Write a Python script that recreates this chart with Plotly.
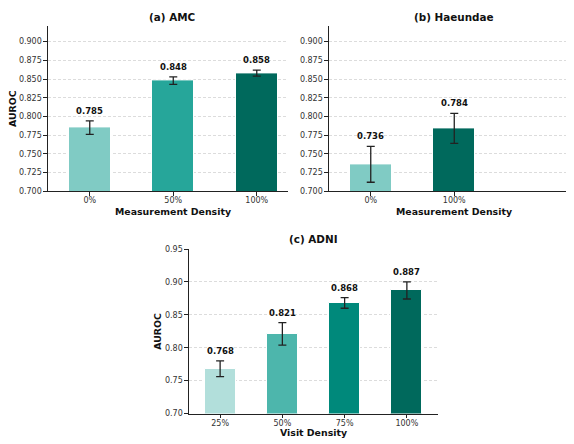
import plotly.graph_objects as go

# ---- data ----
amc_cats = ["0%", "50%", "100%"]
amc_vals = [0.785, 0.848, 0.858]
amc_err = [0.009, 0.005, 0.004]
amc_colors = ["#80cbc4", "#26a69a", "#00695c"]

hae_cats = ["0%", "100%"]
hae_vals = [0.736, 0.784]
hae_err = [0.024, 0.020]
hae_colors = ["#80cbc4", "#00695c"]

adni_cats = ["25%", "50%", "75%", "100%"]
adni_vals = [0.768, 0.821, 0.868, 0.887]
adni_err = [0.012, 0.017, 0.008, 0.013]
adni_colors = ["#b2dfdb", "#4db6ac", "#00897b", "#00695c"]

amc_ticks = [0.700, 0.725, 0.750, 0.775, 0.800, 0.825, 0.850, 0.875, 0.900]
adni_ticks = [0.70, 0.75, 0.80, 0.85, 0.90, 0.95]

OFF = 8  # page body margin
W, H = 574 - OFF, 444 - OFF
FONT = "DejaVu Sans"

fig = go.Figure()


def px_x(p):
    return (p - OFF) / W


def px_y(p):
    return 1 - (p - OFF) / H


panels = [
    dict(cats=amc_cats, vals=amc_vals, err=amc_err, colors=amc_colors, xa="x", ya="y"),
    dict(cats=hae_cats, vals=hae_vals, err=hae_err, colors=hae_colors, xa="x2", ya="y2"),
    dict(cats=adni_cats, vals=adni_vals, err=adni_err, colors=adni_colors, xa="x3", ya="y3"),
]

for p in panels:
    xs = list(range(len(p["cats"])))
    fig.add_trace(go.Bar(
        x=xs, y=p["vals"], width=0.5,
        marker=dict(color=p["colors"], line=dict(color="white", width=1)),
        error_y=dict(type="data", array=p["err"], visible=True,
                     color="#222222", thickness=1.3, width=4),
        xaxis=p["xa"], yaxis=p["ya"], showlegend=False, hoverinfo="skip",
    ))
    for i, (v, e) in enumerate(zip(p["vals"], p["err"])):
        fig.add_annotation(
            x=i, y=v + e, xref=p["xa"], yref=p["ya"],
            text=f"<b>{v:.3f}</b>", showarrow=False,
            yanchor="middle", yshift=10,
            font=dict(family=FONT, size=8.5, color="#111111"),
        )

axis_common = dict(
    showline=True, linecolor="#222222", linewidth=1.2,
    ticks="outside", ticklen=3.5, tickwidth=1, tickcolor="#222222",
    tickfont=dict(family=FONT, size=8, color="#333333"),
    zeroline=False, fixedrange=True,
)
grid = dict(showgrid=True, gridcolor="#dcdcdc", griddash="3px,2px", gridwidth=0.8)

fig.update_layout(
    width=W, height=H,
    margin=dict(l=0, r=0, t=0, b=0),
    paper_bgcolor="white", plot_bgcolor="white",
    bargap=0,
    xaxis=dict(domain=[px_x(48), px_x(288)], range=[-0.5, 2.374],
               tickvals=list(range(len(amc_cats))), ticktext=amc_cats,
               showgrid=False, anchor="y", ticklabelstandoff=-2, **axis_common),
    yaxis=dict(domain=[px_y(191), px_y(22.7)], range=[0.7, 0.9204],
               tickvals=amc_ticks, tickformat=".3f", anchor="x",
               **grid, **axis_common),
    xaxis2=dict(domain=[px_x(329), 1.0], range=[-0.5, 2.434],
                tickvals=list(range(len(hae_cats))), ticktext=hae_cats,
                showgrid=False, anchor="y2", ticklabelstandoff=-2, **axis_common),
    yaxis2=dict(domain=[px_y(191), px_y(22.7)], range=[0.7, 0.9204],
                tickvals=amc_ticks, tickformat=".3f", anchor="x2",
                **grid, **axis_common),
    xaxis3=dict(domain=[px_x(189), px_x(438)], range=[-0.5, 3.5],
                tickvals=list(range(len(adni_cats))), ticktext=adni_cats,
                showgrid=False, anchor="y3", ticklabelstandoff=-2, **axis_common),
    yaxis3=dict(domain=[px_y(418), px_y(250)], range=[0.7, 0.95],
                tickvals=adni_ticks, tickformat=".2f", anchor="x3",
                **grid, **axis_common),
)

# titles and axis labels
texts = [
    ("<b>(a) AMC</b>", 172, 13, 10.4, 0),
    ("<b>(b) Haeundae</b>", 454, 13, 10.4, 0),
    ("<b>(c) ADNI</b>", 313, 240, 10.4, 0),
    ("<b>Measurement Density</b>", 172.5, 211.5, 9.4, 0),
    ("<b>Measurement Density</b>", 454, 211.5, 9.4, 0),
    ("<b>Visit Density</b>", 313, 437.5, 9.4, 0),
    ("<b>AUROC</b>", 13, 107, 9.4, -90),
    ("<b>AUROC</b>", 157.5, 334, 9.4, -90),
]
for t, x, y, s, ang in texts:
    fig.add_annotation(
        x=px_x(x), y=px_y(y), xref="paper", yref="paper",
        text=t, showarrow=False, textangle=ang,
        xanchor="center", yanchor="middle",
        font=dict(family=FONT, size=s, color="#111111"),
    )

fig.write_html("out.html")
